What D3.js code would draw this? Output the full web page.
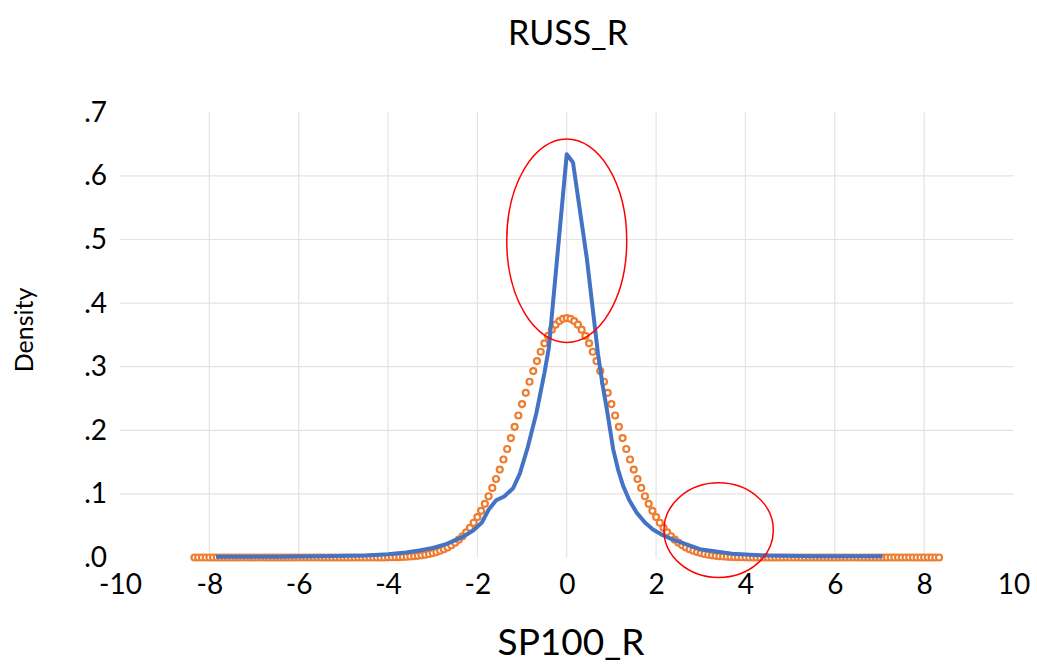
<!DOCTYPE html>
<html>
<head>
<meta charset="utf-8">
<script src="https://cdn.jsdelivr.net/npm/d3@7"></script>
<style>
  body { margin: 0; background: #fff; }
  text { font-family: Lato, "Open Sans", sans-serif; fill: #000; }
</style>
</head>
<body>
<div id="chart"></div>
<script>
var title = "RUSS_R";
var xTitle = "SP100_R";
var yTitle = "Density";

var xTicks = [-10, -8, -6, -4, -2, 0, 2, 4, 6, 8, 10];
var yTicks = [0, 0.1, 0.2, 0.3, 0.4, 0.5, 0.6, 0.7];
var yTickLabels = [".0", ".1", ".2", ".3", ".4", ".5", ".6", ".7"];

// kernel density of RUSS_R (blue line)
var kernelX = [-7.85, -6.5, -5.5, -4.5, -4.0, -3.6, -3.3, -3.0, -2.7, -2.4, -2.1, -1.9, -1.75, -1.58, -1.4, -1.2, -1.05, -0.87, -0.68, -0.5, -0.4, 0.0, 0.14, 0.45, 0.7, 0.8, 0.9, 1.04, 1.15, 1.26, 1.4, 1.56, 1.75, 1.93, 2.15, 2.38, 2.98, 3.7, 4.5, 5.5, 7.07];
var kernelY = [0.001, 0.001, 0.002, 0.003, 0.005, 0.008, 0.011, 0.015, 0.021, 0.030, 0.042, 0.055, 0.075, 0.090, 0.096, 0.109, 0.132, 0.174, 0.227, 0.290, 0.330, 0.634, 0.621, 0.470, 0.320, 0.272, 0.232, 0.170, 0.138, 0.113, 0.090, 0.071, 0.055, 0.044, 0.035, 0.028, 0.013, 0.006, 0.003, 0.002, 0.002];

// theoretical normal (orange markers), 201 points from -8.333 to 8.333 every 1/12
var normalStart = -8.33333, normalStep = 0.0833333;
var normalY = [
  0, 0, 0, 0, 0, 0, 0, 0, 0, 0, 0, 0, 0,
  0, 0, 0, 0, 0, 0, 0, 0, 0, 0, 0, 0, 0,
  0, 0, 0, 0, 0, 0, 0, 0, 0, 0, 0, 0, 0,
  0, 0, 0, 0, 0, 0, 0, 0, 0, 0, 0, 0, 0,
  0.0003, 0.0004, 0.0005, 0.0007, 0.0009, 0.0012, 0.0016, 0.0021, 0.0027, 0.0034, 0.0043, 0.0055,
  0.0069, 0.0085, 0.0106, 0.0130, 0.0159, 0.0193, 0.0233, 0.0280, 0.0334, 0.0396, 0.0466, 0.0546,
  0.0635, 0.0734, 0.0844, 0.0963, 0.1094, 0.1234, 0.1383, 0.1541, 0.1706, 0.1878, 0.2054, 0.2233,
  0.2412, 0.2590, 0.2763, 0.2931, 0.3089, 0.3235, 0.3368, 0.3484, 0.3582, 0.3661, 0.3718, 0.3752,
  0.3764,
  0.3752, 0.3718, 0.3661, 0.3582, 0.3484, 0.3368, 0.3235, 0.3089, 0.2931, 0.2763, 0.2590, 0.2412,
  0.2233, 0.2054, 0.1878, 0.1706, 0.1541, 0.1383, 0.1234, 0.1094, 0.0963, 0.0844, 0.0734, 0.0635,
  0.0546, 0.0466, 0.0396, 0.0334, 0.0280, 0.0233, 0.0193, 0.0159, 0.0130, 0.0106, 0.0085, 0.0069,
  0.0055, 0.0043, 0.0034, 0.0027, 0.0021, 0.0016, 0.0012, 0.0009, 0.0007, 0.0005, 0.0004, 0.0003,
  0, 0, 0, 0, 0, 0, 0, 0, 0, 0, 0, 0, 0,
  0, 0, 0, 0, 0, 0, 0, 0, 0, 0, 0, 0, 0,
  0, 0, 0, 0, 0, 0, 0, 0, 0, 0, 0, 0, 0,
  0, 0, 0, 0, 0, 0, 0, 0, 0, 0, 0, 0, 0
];

// red ellipses drawn on the chart: centre x, centre y, radius x, radius y (data units)
var ellipseCx = [0.0, 3.40];
var ellipseCy = [0.498, 0.043];
var ellipseRx = [1.343, 1.224];
var ellipseRy = [0.160, 0.0744];

var color = {"kernel": "#4472C4", "normal": "#ED7D31", "grid": "#E3E3E3", "mark": "#FF0000"};

var width = 1037, height = 664;
var svg = d3.select("#chart").append("svg")
  .attr("width", width)
  .attr("height", height);

var x = d3.scaleLinear().domain([-10, 10]).range([120, 1013.5]);
var y = d3.scaleLinear().domain([0, 0.7]).range([557.5, 112.3]);

// gridlines
svg.append("g").selectAll("line.h")
  .data(yTicks.filter(function(d){ return d > 0 && d < 0.7; }))
  .enter().append("line")
  .attr("x1", x(-10)).attr("x2", x(10))
  .attr("y1", function(d){ return y(d); })
  .attr("y2", function(d){ return y(d); })
  .style("stroke", color["grid"])
  .style("stroke-width", 1.2);

svg.append("g").selectAll("line.v")
  .data(xTicks.filter(function(d){ return d > -10 && d < 10; }))
  .enter().append("line")
  .attr("x1", function(d){ return x(d); })
  .attr("x2", function(d){ return x(d); })
  .attr("y1", y(0.7)).attr("y2", y(0))
  .style("stroke", color["grid"])
  .style("stroke-width", 1.2);

// axes (labels only, no domain lines)
var xAxis = svg.append("g")
  .attr("transform", "translate(0," + y(0) + ")")
  .call(d3.axisBottom(x).tickValues(xTicks)
    .tickFormat(function(d){ return String(d); })
    .tickSize(0).tickPadding(17));
xAxis.select(".domain").remove();
xAxis.selectAll("text").style("font-size", "28px").style("font-family", "Lato, sans-serif").attr("dy", "0.71em");

var yAxis = svg.append("g")
  .attr("transform", "translate(" + x(-10) + ",0)")
  .call(d3.axisLeft(y).tickValues(yTicks)
    .tickFormat(function(d, i){ return yTickLabels[i]; })
    .tickSize(0).tickPadding(13));
yAxis.select(".domain").remove();
yAxis.selectAll("text").style("font-size", "28px").style("font-family", "Lato, sans-serif");

// orange normal markers
var normalData = normalY.map(function(v, i){
  return {x: normalStart + i * normalStep, y: v};
});
svg.append("g").attr("id", "normal").selectAll("circle")
  .data(normalData)
  .enter().append("circle")
  .attr("cx", function(d){ return x(d.x); })
  .attr("cy", function(d){ return y(d.y); })
  .attr("r", 3)
  .style("fill", "#fff")
  .style("stroke", color["normal"])
  .style("stroke-width", 2.2);

// blue kernel density line
var kernelData = kernelX.map(function(v, i){ return {x: v, y: kernelY[i]}; });
var line = d3.line()
  .x(function(d){ return x(d.x); })
  .y(function(d){ return y(d.y); });
svg.append("path")
  .datum(kernelData)
  .attr("d", line)
  .style("fill", "none")
  .style("stroke", color["kernel"])
  .style("stroke-width", 4)
  .style("stroke-linejoin", "round");

// red ellipses
svg.append("g").selectAll("ellipse")
  .data(ellipseCx)
  .enter().append("ellipse")
  .attr("cx", function(d){ return x(d); })
  .attr("cy", function(d, i){ return y(ellipseCy[i]); })
  .attr("rx", function(d, i){ return x(ellipseRx[i]) - x(0); })
  .attr("ry", function(d, i){ return y(0) - y(ellipseRy[i]); })
  .style("fill", "none")
  .style("stroke", color["mark"])
  .style("stroke-width", 1.5);

// titles
svg.append("text")
  .attr("x", 568).attr("y", 45)
  .attr("text-anchor", "middle")
  .style("font-size", "34px")
  .text(title);

svg.append("text")
  .attr("x", 571).attr("y", 655)
  .attr("text-anchor", "middle")
  .style("font-size", "37px")
  .text(xTitle);

svg.append("text")
  .attr("transform", "translate(33,330) rotate(-90)")
  .attr("text-anchor", "middle")
  .style("font-size", "25px")
  .text(yTitle);
</script>
</body>
</html>
